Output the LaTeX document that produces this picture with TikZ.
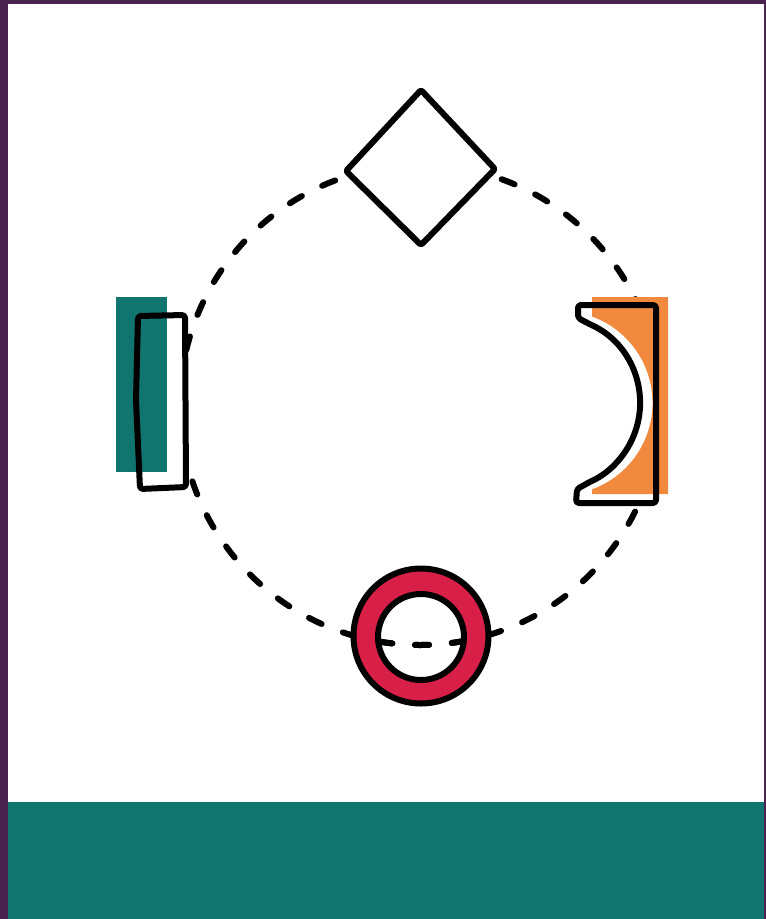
\documentclass[tikz,border=0pt]{standalone}
\definecolor{bpurple}{HTML}{4A2351}
\definecolor{bteal}{HTML}{10756F}
\definecolor{bred}{HTML}{D81F48}
\definecolor{borange}{HTML}{F18A3F}
\tikzset{
  ink/.style={draw=black, line width=6pt, line join=round, line cap=round},
  dashring/.style={draw=black, line width=6pt, line cap=round, dash pattern=on 14pt off 22.8pt},
}
\begin{document}
\begin{tikzpicture}[x=1pt,y=-1pt]
\useasboundingbox (0,0) rectangle (766,919);
% frame
\fill[bpurple] (0,0) rectangle (766,919);
\fill[white] (8,4) rectangle (764,802);
\fill[bteal] (8,802) rectangle (764,919);
% dashed cycle
\draw[dashring] (420,405) circle[radius=240];
% diamond
\path[ink, fill=white, rounded corners=2pt] (421,90) -- (495,169) -- (421,245) -- (346,171) -- cycle;
% left: teal block
\path[fill=white] (138,316) -- (185,315) -- (186,487) -- (140,489) -- (137,400) -- cycle;
\fill[bteal] (116,297) rectangle (167,472);
\path[ink, rounded corners=3pt] (138,316) -- (185,315) -- (186,487) -- (140,489) -- (136,400) -- cycle;
% right: orange block
\path[fill=white] (578,305) -- (578,318) -- (589.8,324.2) arc[start angle=-65,end angle=65,radius=87] -- (577,489) -- (576,503) -- (656,503) -- (656,305) -- cycle;
\fill[borange] (592,297) -- (592,316.5) arc[start angle=-70,end angle=70,radius=92] -- (592,494) -- (668,494) -- (668,297) -- cycle;
\path[ink, rounded corners=3pt] (578,305) -- (578,318) -- (589.8,324.2) arc[start angle=-65,end angle=65,radius=87] -- (577,489) -- (576,503) -- (656,503) -- (656,305) -- cycle;
% bottom: ring
\fill[bred, even odd rule] (421,636) circle[radius=67.5] (421,637) circle[radius=43];
\draw[ink] (421,636) circle[radius=67.5];
\draw[ink] (421,637) circle[radius=43];
\begin{scope}
\clip (421,637) circle[radius=40];
\draw[dashring] (420,405) circle[radius=240];
\end{scope}
\end{tikzpicture}
\end{document}
